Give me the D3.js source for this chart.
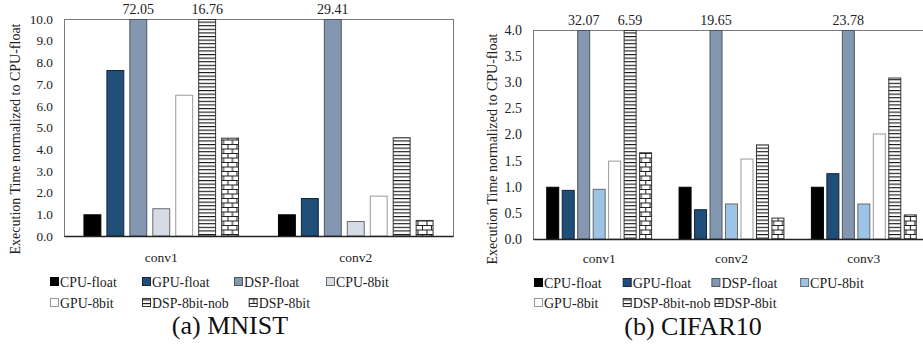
<!DOCTYPE html>
<html>
<head>
<meta charset="utf-8">
<script src="https://cdn.jsdelivr.net/npm/d3@7"></script>
<style>
  html, body { margin: 0; padding: 0; background: #fff; }
  svg { display: block; font-family: "Liberation Serif", "Times New Roman", serif; }
</style>
</head>
<body>
<svg id="chart" width="923" height="350"></svg>
<script>
// Series (one bar each per layer group)
const seriesNames = ["CPU-float", "GPU-float", "DSP-float", "CPU-8bit", "GPU-8bit", "DSP-8bit-nob", "DSP-8bit"];

// MNIST: execution time normalized to CPU-float, per layer
const mnistCategories = ["conv1", "conv2"];
const mnistConv1 = [1.00, 7.65, 72.05, 1.28, 6.51, 16.76, 4.53];
const mnistConv2 = [1.00, 1.75, 29.41, 0.69, 1.86, 4.55, 0.74];
const mnistTicks = [0, 1, 2, 3, 4, 5, 6, 7, 8, 9, 10];

// CIFAR10: execution time normalized to CPU-float, per layer
const cifarCategories = ["conv1", "conv2", "conv3"];
const cifarConv1 = [1.00, 0.94, 32.07, 0.96, 1.50, 6.59, 1.66];
const cifarConv2 = [1.00, 0.57, 19.65, 0.68, 1.54, 1.81, 0.41];
const cifarConv3 = [1.00, 1.26, 23.78, 0.68, 2.02, 3.09, 0.47];
const cifarTicks = [0, 0.5, 1, 1.5, 2, 2.5, 3, 3.5, 4];

const svg = d3.select("#chart");
const defs = svg.append("defs");

// Horizontal stripes
const stripes = defs.append("pattern").attr("id", "stripes")
  .attr("patternUnits", "userSpaceOnUse").attr("width", 8).attr("height", 3.6);
stripes.append("rect").attr("width", 8).attr("height", 3.6).attr("fill", "#fff");
stripes.append("rect").attr("y", 0).attr("width", 8).attr("height", 1.1).attr("fill", "#111");

// Brick wall
const brick = defs.append("pattern").attr("id", "brick")
  .attr("patternUnits", "userSpaceOnUse").attr("width", 9).attr("height", 9);
brick.append("rect").attr("width", 9).attr("height", 9).attr("fill", "#fff");
brick.append("path")
  .attr("d", "M0,0.5H9 M0,5H9 M0.5,0V5 M5,5V9")
  .attr("stroke", "#222").attr("stroke-width", 1.1).attr("fill", "none");

function seriesStyle(light8bit) {
  return [
    { fill: "#000000", stroke: "#000000" },
    { fill: "#1f4e79", stroke: "#10263c" },
    { fill: "#8497b0", stroke: "#4a5566" },
    { fill: light8bit, stroke: "#6b6b6b" },
    { fill: "#ffffff", stroke: "#9a9a9a" },
    { fill: "url(#stripes)", stroke: "#333333" },
    { fill: "url(#brick)", stroke: "#333333" }
  ];
}

function drawPanel(cfg) {
  const g = svg.append("g");
  const { left, right, top, bottom } = cfg.frame;
  const styles = seriesStyle(cfg.light8bit);
  const yMax = cfg.ticks[cfg.ticks.length - 1];

  const x0 = d3.scaleBand().domain(cfg.categories).range([left, right])
    .paddingInner(0.2).paddingOuter(0.1);
  const x1 = d3.scaleBand().domain(seriesNames).range([0, x0.bandwidth()])
    .paddingInner(cfg.barPad).paddingOuter(0);
  const y = d3.scaleLinear().domain([0, yMax]).range([bottom, top]);

  // plot-area border
  g.append("rect")
    .attr("x", left + 0.5).attr("y", top + 0.5)
    .attr("width", right - left).attr("height", bottom - top)
    .attr("fill", "none").attr("stroke", "#7a7a7a").attr("stroke-width", 1);

  // y axis labels
  const yAxis = d3.axisLeft(y).tickValues(cfg.ticks).tickSize(0).tickPadding(cfg.tickPad)
    .tickFormat(d3.format(".1f"));
  const ya = g.append("g").attr("transform", `translate(${left},0)`).call(yAxis);
  ya.select(".domain").remove();
  ya.selectAll("text").attr("font-family", "Liberation Serif").attr("font-size", cfg.tickSize).attr("fill", "#222");

  // bars
  const rows = cfg.categories.map((c, i) => ({ cat: c, values: cfg.values[i] }));
  const groups = g.selectAll(".grp").data(rows).join("g")
    .attr("transform", d => `translate(${x0(d.cat)},0)`);
  groups.selectAll("rect").data(d => d.values.map((v, j) => ({ name: seriesNames[j], v, j })))
    .join("rect")
    .attr("x", d => x1(d.name) + 0.5)
    .attr("y", d => y(Math.min(d.v, yMax)) + 0.5)
    .attr("width", x1.bandwidth() - 1)
    .attr("height", d => y(0) - y(Math.min(d.v, yMax)) - 0.5)
    .attr("fill", d => styles[d.j].fill)
    .attr("stroke", d => styles[d.j].stroke)
    .attr("stroke-width", 1);

  // values that run past the axis maximum
  groups.selectAll("text.val").data(d => d.values.map((v, j) => ({ name: seriesNames[j], v })).filter(d => d.v > yMax))
    .join("text").attr("class", "val")
    .attr("x", d => x1(d.name) + x1.bandwidth() / 2)
    .attr("y", top - 5)
    .attr("text-anchor", "middle")
    .attr("font-size", cfg.valSize).attr("fill", "#222")
    .text(d => d3.format(".2f")(d.v));

  // baseline axis
  const xa = g.append("g").attr("transform", `translate(0,${bottom})`)
    .call(d3.axisBottom(x0).tickSize(0).tickPadding(cfg.catPad));
  xa.select(".domain").attr("stroke", "#222").attr("stroke-width", 1.4);
  xa.selectAll("text").attr("font-family", "Liberation Serif").attr("font-size", cfg.catSize).attr("fill", "#222");

  // y title
  g.append("text")
    .attr("transform", `translate(${cfg.titlePos[0]},${cfg.titlePos[1]}) rotate(-90)`)
    .attr("text-anchor", "middle").attr("dominant-baseline", "central")
    .attr("font-size", cfg.titleSize).attr("fill", "#222")
    .text("Execution Time normalized to CPU-float");

  // legend (two rows)
  const legendRows = [seriesNames.slice(0, 4), seriesNames.slice(4)];
  legendRows.forEach((row, r) => {
    let lx = cfg.legend.x;
    const ly = cfg.legend.y + r * cfg.legend.rowGap;
    row.forEach(name => {
      const j = seriesNames.indexOf(name);
      const item = g.append("g").attr("transform", `translate(${lx},${ly})`);
      item.append("rect").attr("x", 0.5).attr("y", -4.5).attr("width", 8).attr("height", 8)
        .attr("fill", styles[j].fill).attr("stroke", styles[j].stroke).attr("stroke-width", 1);
      const t = item.append("text").attr("x", 10).attr("y", 0)
        .attr("dominant-baseline", "central")
        .attr("font-size", cfg.legend.size).attr("fill", "#222").text(name);
      const w = 10 + t.node().getComputedTextLength();
      lx += Math.max(cfg.legend.colW, w + cfg.legend.minGap);
    });
  });

  // caption
  g.append("text")
    .attr("x", cfg.caption.x).attr("y", cfg.caption.y)
    .attr("text-anchor", "middle").attr("font-size", cfg.caption.size).attr("fill", "#111")
    .text(cfg.caption.text);
}

drawPanel({
  categories: mnistCategories,
  values: [mnistConv1, mnistConv2],
  ticks: mnistTicks,
  light8bit: "#d6dce5",
  frame: { left: 64, right: 453, top: 19, bottom: 236 },
  barPad: 0.22,
  tickPad: 11, tickSize: 13.3,
  valSize: 14, catSize: 13.5, catPad: 16,
  titleSize: 14, titlePos: [15, 139],
  legend: { x: 50, y: 282, rowGap: 21, size: 13.8, colW: 92, minGap: 20 },
  caption: { x: 230, y: 334, text: "(a) MNIST", size: 26 }
});

drawPanel({
  categories: cifarCategories,
  values: [cifarConv1, cifarConv2, cifarConv3],
  ticks: cifarTicks,
  light8bit: "#9dc3e6",
  frame: { left: 533, right: 930, top: 30, bottom: 239 },
  barPad: 0.16,
  tickPad: 11, tickSize: 14,
  valSize: 14, catSize: 13.5, catPad: 14,
  titleSize: 14, titlePos: [492, 149],
  legend: { x: 534, y: 283, rowGap: 20, size: 14, colW: 88.7, minGap: 4 },
  caption: { x: 693, y: 335, text: "(b) CIFAR10", size: 26 }
});
</script>
</body>
</html>
